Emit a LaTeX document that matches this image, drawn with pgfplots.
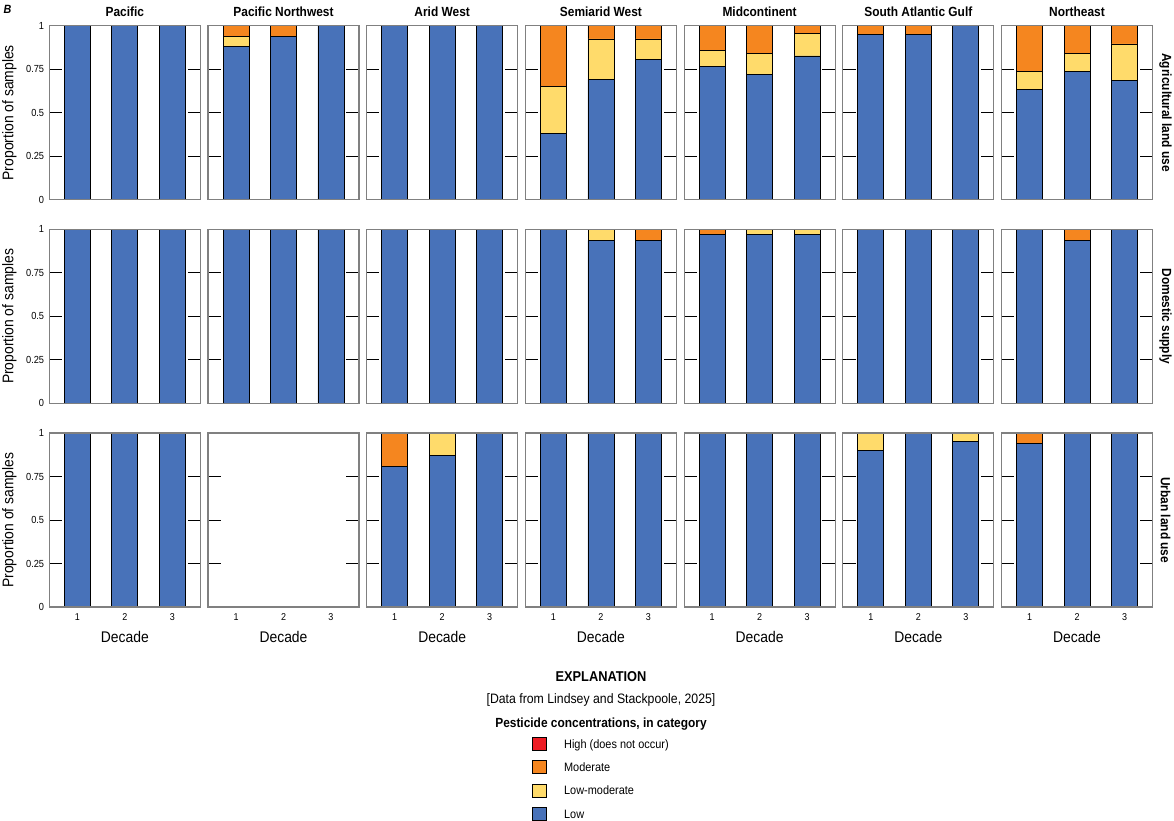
\documentclass[border=0pt]{standalone}
\usepackage{fontspec}
\setmainfont{Liberation Sans}[FakeStretch=0.9]
\usepackage{pgfplots}
\pgfplotsset{compat=1.18}

\definecolor{lowc}{RGB}{72,114,185}
\definecolor{lmc}{RGB}{255,219,107}
\definecolor{modc}{RGB}{245,134,31}
\definecolor{highc}{RGB}{237,28,36}
\definecolor{framec}{RGB}{128,128,128}

\pgfplotsset{
  panel/.style={
    ybar stacked, bar width=26bp,
    scale only axis, width=151bp, height=174bp, anchor=north west,
    xmin=0.41, xmax=3.59, ymin=0, ymax=1,
    axis on top,
    axis line style={framec, line width=1.2bp},
    xtick={1,2,3}, xticklabels=\empty, xtick style={draw=none},
    ytick={0.25,0.5,0.75}, yticklabels=\empty,
    ytick style={black, line width=0.8bp},
    major tick length=12.7bp,
    tick align=inside, ytick pos=both,
    /pgf/number format/assume math mode=true,
    tick label style={font=\fontsize{10.3}{12}\selectfont},
    every axis title/.style={at={(axis description cs:0.5,1.0517)}, anchor=base,
      font=\bfseries\fontsize{13.3}{16}\selectfont},
    every axis x label/.style={at={(axis description cs:0.5,-0.2011)}, anchor=base,
      font=\fontsize{15.5}{18}\selectfont},
    every axis y label/.style={at={(axis description cs:-0.2636,0.5)}, rotate=90,
      anchor=center, font=\fontsize{15.5}{18}\selectfont},
  },
  firstcol/.style={
    yticklabels={0.25,0.5,0.75},
    extra y ticks={0,1}, extra y tick labels={0,1},
    extra y tick style={major tick length=0pt},
    yticklabel style={anchor=east, inner sep=0pt, xshift=-5bp},
    ylabel={Proportion of samples}},
  lastrow/.style={
    xticklabels={1,2,3}, xlabel={Decade},
    xticklabel style={anchor=base, yshift=-13.5bp, font=\fontsize{10}{12}\selectfont}},
}

% #1 column, #2 row, #3 options, #4 low, #5 low-moderate, #6 moderate
\newcommand{\panel}[6]{%
  \begin{axis}[panel, at={({49.3bp+#1*158.7bp},{795.3bp-#2*203.7bp})}, #3]
    \addplot[fill=lowc, draw=black, line width=0.8bp] coordinates {#4};
    \addplot[fill=lmc, draw=black, line width=0.8bp] coordinates {#5};
    \addplot[fill=modc, draw=black, line width=0.8bp] coordinates {#6};
  \end{axis}}

\begin{document}
\begin{tikzpicture}
\path[use as bounding box] (0,0) rectangle (1174bp,821bp);

% Agricultural land use
\panel{0}{0}{firstcol, title={Pacific}}
  {(1,1)(2,1)(3,1)}{(1,0)(2,0)(3,0)}{(1,0)(2,0)(3,0)}
\panel{1}{0}{title={Pacific Northwest}}
  {(1,0.88)(2,0.94)(3,1)}{(1,0.06)(2,0)(3,0)}{(1,0.06)(2,0.06)(3,0)}
\panel{2}{0}{title={Arid West}}
  {(1,1)(2,1)(3,1)}{(1,0)(2,0)(3,0)}{(1,0)(2,0)(3,0)}
\panel{3}{0}{title={Semiarid West}}
  {(1,0.382)(2,0.692)(3,0.807)}{(1,0.271)(2,0.232)(3,0.117)}{(1,0.347)(2,0.076)(3,0.076)}
\panel{4}{0}{title={Midcontinent}}
  {(1,0.764)(2,0.718)(3,0.826)}{(1,0.095)(2,0.125)(3,0.127)}{(1,0.141)(2,0.157)(3,0.047)}
\panel{5}{0}{title={South Atlantic Gulf}}
  {(1,0.952)(2,0.952)(3,1)}{(1,0)(2,0)(3,0)}{(1,0.048)(2,0.048)(3,0)}
\panel{6}{0}{title={Northeast}}
  {(1,0.632)(2,0.738)(3,0.684)}{(1,0.106)(2,0.105)(3,0.211)}{(1,0.262)(2,0.157)(3,0.105)}

% Domestic supply
\panel{0}{1}{firstcol}
  {(1,1)(2,1)(3,1)}{(1,0)(2,0)(3,0)}{(1,0)(2,0)(3,0)}
\panel{1}{1}{}
  {(1,1)(2,1)(3,1)}{(1,0)(2,0)(3,0)}{(1,0)(2,0)(3,0)}
\panel{2}{1}{}
  {(1,1)(2,1)(3,1)}{(1,0)(2,0)(3,0)}{(1,0)(2,0)(3,0)}
\panel{3}{1}{}
  {(1,1)(2,0.937)(3,0.937)}{(1,0)(2,0.063)(3,0)}{(1,0)(2,0)(3,0.063)}
\panel{4}{1}{}
  {(1,0.971)(2,0.971)(3,0.971)}{(1,0)(2,0.029)(3,0.029)}{(1,0.029)(2,0)(3,0)}
\panel{5}{1}{}
  {(1,1)(2,1)(3,1)}{(1,0)(2,0)(3,0)}{(1,0)(2,0)(3,0)}
\panel{6}{1}{}
  {(1,1)(2,0.937)(3,1)}{(1,0)(2,0)(3,0)}{(1,0)(2,0.063)(3,0)}

% Urban land use
\panel{0}{2}{firstcol, lastrow}
  {(1,1)(2,1)(3,1)}{(1,0)(2,0)(3,0)}{(1,0)(2,0)(3,0)}
\begin{axis}[panel, at={({49.3bp+1*158.7bp},{795.3bp-2*203.7bp})}, lastrow]
\end{axis}
\panel{2}{2}{lastrow}
  {(1,0.81)(2,0.873)(3,1)}{(1,0)(2,0.127)(3,0)}{(1,0.19)(2,0)(3,0)}
\panel{3}{2}{lastrow}
  {(1,1)(2,1)(3,1)}{(1,0)(2,0)(3,0)}{(1,0)(2,0)(3,0)}
\panel{4}{2}{lastrow}
  {(1,1)(2,1)(3,1)}{(1,0)(2,0)(3,0)}{(1,0)(2,0)(3,0)}
\panel{5}{2}{lastrow}
  {(1,0.902)(2,1)(3,0.95)}{(1,0.098)(2,0)(3,0.05)}{(1,0)(2,0)(3,0)}
\panel{6}{2}{lastrow}
  {(1,0.941)(2,1)(3,1)}{(1,0)(2,0)(3,0)}{(1,0.059)(2,0)(3,0)}

% row labels
\foreach \r/\lab in {0/Agricultural land use, 1/Domestic supply, 2/Urban land use}
  \node[rotate=-90, font=\bfseries\fontsize{13.3}{16}\selectfont]
    at (1165.5bp, {708.3bp-\r*203.7bp}) {\lab};

\node[anchor=base, font=\bfseries\itshape\fontsize{12}{14}\selectfont] at (7.5bp,807.7bp) {B};

% explanation
\node[font=\bfseries\fontsize{14.3}{17}\selectfont] at (601bp,144bp) {EXPLANATION};
\node[anchor=base, font=\fontsize{13.7}{16}\selectfont] at (601bp,117bp) {[Data from Lindsey and Stackpoole, 2025]};
\node[anchor=base, font=\bfseries\fontsize{13.3}{16}\selectfont] at (601bp,93.7bp) {Pesticide concentrations, in category};

\begin{axis}[hide axis, scale only axis, width=10bp, height=10bp,
  anchor=north west, at={(532.3bp,84.4bp)},
  xmin=0, xmax=1, ymin=0, ymax=1,
  legend style={at={(0,1)}, anchor=north west, draw=none, fill=none,
    inner sep=0pt, outer sep=0pt, row sep=9.25bp, column sep=17.6bp,
    font=\fontsize{12.2}{14}\selectfont,
    nodes={inner sep=0pt, text height=8.7bp, text depth=0pt}},
  legend cell align=left,
  legend image code/.code={\draw[#1] (0bp,-6.7bp) rectangle (13.4bp,6.7bp);}]
\addlegendimage{fill=highc, draw=black, line width=0.8bp}
\addlegendentry{High (does not occur)}
\addlegendimage{fill=modc, draw=black, line width=0.8bp}
\addlegendentry{Moderate}
\addlegendimage{fill=lmc, draw=black, line width=0.8bp}
\addlegendentry{Low-moderate}
\addlegendimage{fill=lowc, draw=black, line width=0.8bp}
\addlegendentry{Low}
\end{axis}
\end{tikzpicture}
\end{document}
